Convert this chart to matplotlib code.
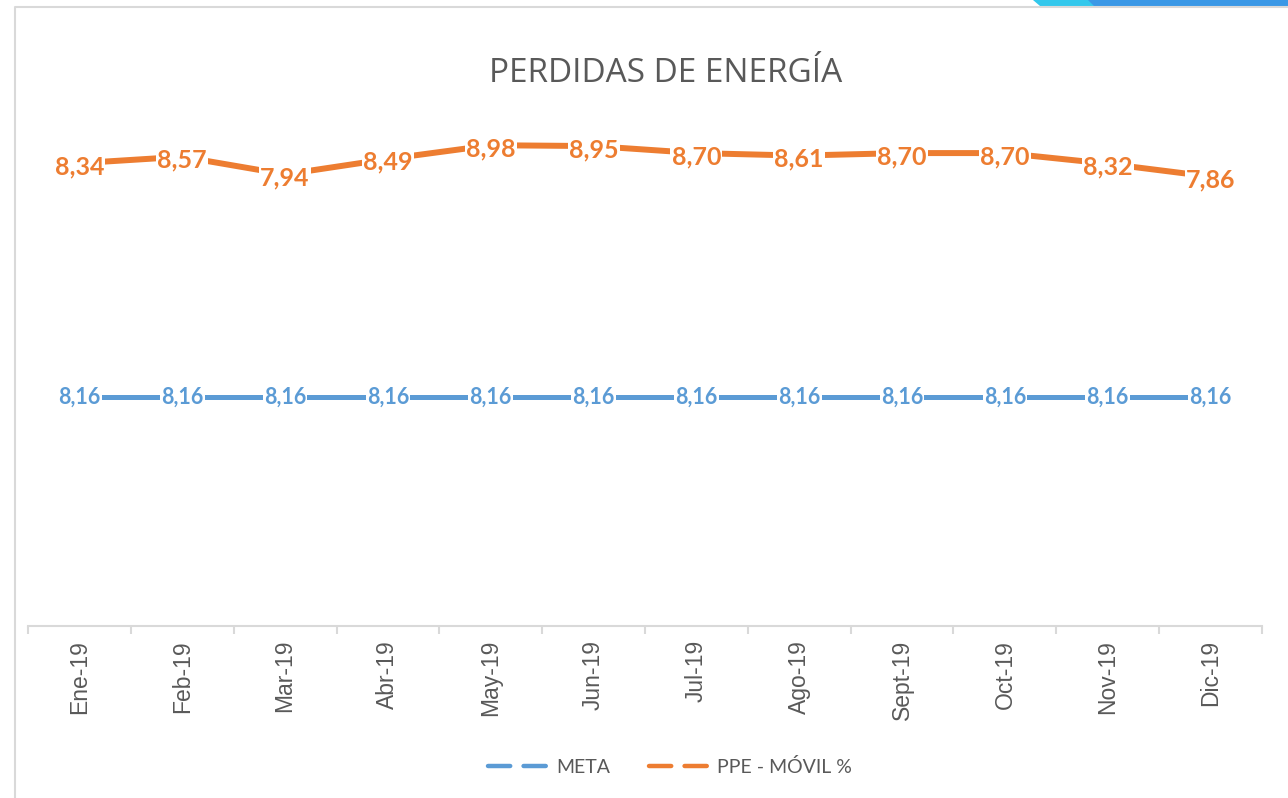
import matplotlib
matplotlib.use('Agg')
import matplotlib.pyplot as plt
from matplotlib.lines import Line2D
from matplotlib.patches import Polygon

meses = ['Ene-19', 'Feb-19', 'Mar-19', 'Abr-19', 'May-19', 'Jun-19',
         'Jul-19', 'Ago-19', 'Sept-19', 'Oct-19', 'Nov-19', 'Dic-19']
meta = [8.16] * 12
ppe_movil = [8.34, 8.57, 7.94, 8.49, 8.98, 8.95, 8.70, 8.61, 8.70, 8.70, 8.32, 7.86]

azul = '#5B9BD5'
naranja = '#ED7D31'
gris = '#595959'

plt.rcParams['font.family'] = ['Lato', 'DejaVu Sans']

W, H = 1288, 798
fig = plt.figure(figsize=(W / 100, H / 100), dpi=100)
ax = fig.add_axes([28 / W, (H - 626) / H, (1262 - 28) / W, (626 - 65) / H])

x = list(range(len(meses)))
# grafico de lineas apiladas (como en Excel)
apilado = [m + p for m, p in zip(meta, ppe_movil)]

ax.plot(x, meta, color=azul, lw=3.6, solid_capstyle='round', zorder=2)
ax.plot(x, apilado, color=naranja, lw=4.3, solid_capstyle='round', zorder=2)

for xi, v in zip(x, meta):
    ax.text(xi, v, f'{v:.2f}'.replace('.', ','), ha='center', va='center',
            fontsize=15.5, fontweight='bold', color=azul, zorder=3,
            bbox=dict(boxstyle='square,pad=0.05', fc='white', ec='none'))
for xi, v, p in zip(x, apilado, ppe_movil):
    ax.text(xi, v - 0.12, f'{p:.2f}'.replace('.', ','), ha='center', va='center',
            fontsize=18, fontweight='bold', color=naranja, zorder=3,
            bbox=dict(boxstyle='square,pad=0.05', fc='white', ec='none'))

ax.set_xlim(-0.5, len(meses) - 0.5)
ax.set_ylim(0, 20)
ax.set_yticks([])
for s in ['top', 'right', 'left']:
    ax.spines[s].set_visible(False)
ax.spines['bottom'].set_color('#d9d9d9')
ax.spines['bottom'].set_linewidth(1.5)

ax.set_xticks(x)
ax.set_xticklabels(meses, rotation=90, fontsize=16.5, color=gris,
                   family=['Liberation Sans', 'DejaVu Sans'])
ax.tick_params(axis='x', which='major', length=0, pad=10)
ax.set_xticks([i - 0.5 for i in range(len(meses) + 1)], minor=True)
ax.tick_params(axis='x', which='minor', length=6, width=1.5, color='#d9d9d9')

fig.text(666 / W, (H - 73) / H, 'PERDIDAS DE ENERGÍA', ha='center', va='center',
         fontsize=24, color=gris, family=['Open Sans', 'DejaVu Sans'])

handles = [Line2D([], [], color=azul, lw=3.2, dashes=(5, 3), dash_capstyle='round'),
           Line2D([], [], color=naranja, lw=3.2, dashes=(5, 3), dash_capstyle='round')]
fig.legend(handles, ['META', 'PPE - MÓVIL %'], loc='center',
           bbox_to_anchor=(670 / W, (H - 767) / H), ncol=2, frameon=False,
           fontsize=14, labelcolor=gris, handlelength=3.4, handletextpad=0.1,
           columnspacing=2.0)

# borde del area del grafico
fig.add_artist(Line2D([15 / W, 15 / W, 1], [0, (H - 7) / H, (H - 7) / H],
                      transform=fig.transFigure, color='#d9d9d9', lw=1.5))
# figura decorativa arriba a la derecha
fig.patches.append(Polygon([[1033 / W, 1], [1090 / W, 1], [1096 / W, (H - 6) / H],
                            [1040 / W, (H - 6) / H]], closed=True,
                           transform=fig.transFigure, fc='#33c8ec', ec='none'))
fig.patches.append(Polygon([[1088 / W, 1], [1, 1], [1, (H - 6) / H],
                            [1094 / W, (H - 6) / H]], closed=True,
                           transform=fig.transFigure, fc='#3a98e6', ec='none'))

fig.savefig('out.png', dpi=100)
